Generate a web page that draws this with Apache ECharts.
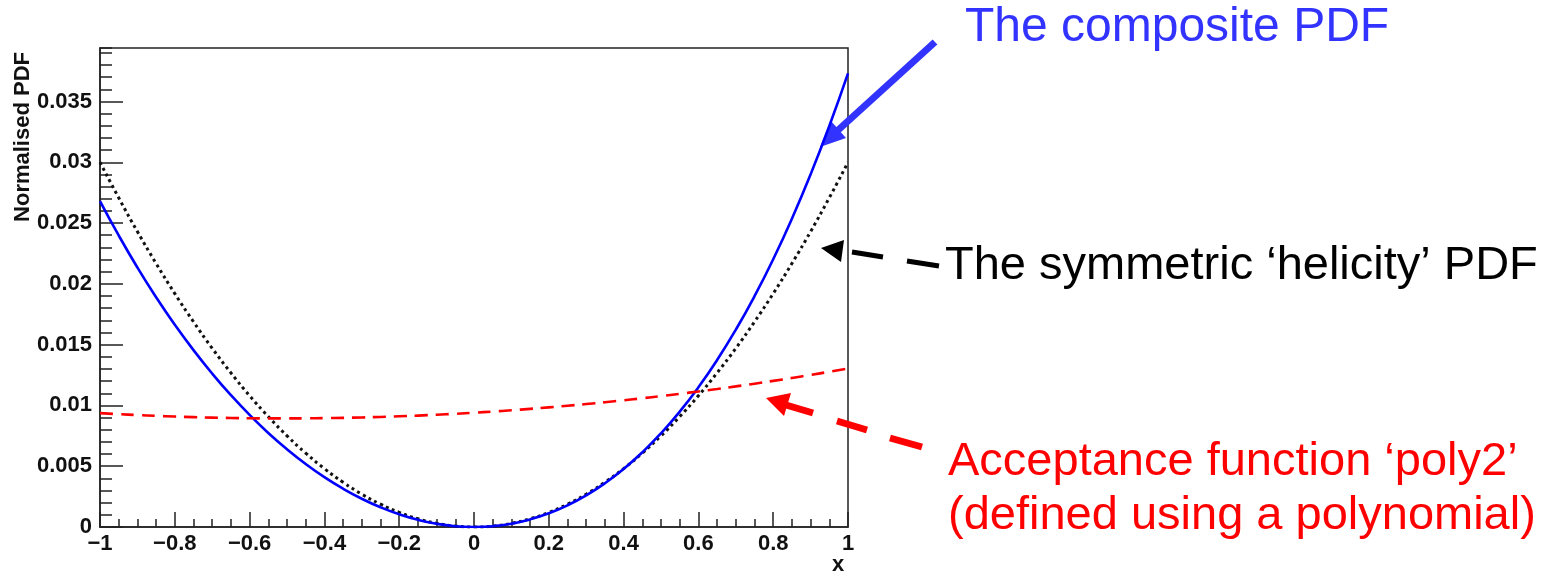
<!DOCTYPE html>
<html>
<head>
<meta charset="utf-8">
<script src="https://cdn.jsdelivr.net/npm/echarts@6/dist/echarts.min.js"></script>
<style>
html,body{margin:0;padding:0;background:#fff;}
#chart{width:1554px;height:575px;}
</style>
</head>
<body>
<div id="chart"></div>
<script>
// x sample positions
const xs = [-1,-0.95,-0.9,-0.85,-0.8,-0.75,-0.7,-0.65,-0.6,-0.55,-0.5,-0.45,-0.4,-0.35,-0.3,-0.25,-0.2,-0.15,-0.1,-0.05,0,
  0.05,0.1,0.15,0.2,0.25,0.3,0.35,0.4,0.45,0.5,0.55,0.6,0.65,0.7,0.75,0.8,0.85,0.9,0.95,1];
// symmetric 'helicity' PDF (black dotted)
const helicity = [0.0300,0.02708,0.0243,0.02168,0.0192,0.01688,0.0147,0.01268,0.0108,0.00908,0.0075,0.00608,0.0048,0.00368,0.0027,0.00188,0.0012,0.00068,0.0003,0.000075,0,
  0.000075,0.0003,0.00068,0.0012,0.00188,0.0027,0.00368,0.0048,0.00608,0.0075,0.00908,0.0108,0.01268,0.0147,0.01688,0.0192,0.02168,0.0243,0.02708,0.0300];
// acceptance function 'poly2' (red dashed)
const acceptance = [0.009365,0.009282,0.009207,0.009141,0.009084,0.009036,0.008998,0.008968,0.008947,0.008935,0.008933,0.008939,0.008954,0.008978,0.009012,0.009054,0.009105,0.009165,0.009235,0.009313,0.0094,
  0.009496,0.009602,0.009716,0.009839,0.009971,0.010113,0.010263,0.010422,0.01059,0.010768,0.010954,0.011149,0.011353,0.011567,0.011789,0.01202,0.012261,0.01251,0.012768,0.013035];
// composite PDF (blue solid)
const composite = [0.026807,0.02398,0.021348,0.018905,0.016642,0.01455,0.012621,0.010846,0.00922,0.007737,0.006393,0.005182,0.004101,0.003148,0.002322,0.00162,0.001043,0.00059,0.000264,0.0000666,0,
  0.000068,0.000275,0.000626,0.001127,0.001784,0.002605,0.003599,0.004773,0.006139,0.007706,0.009485,0.011489,0.01373,0.016224,0.018982,0.022021,0.025358,0.029006,0.032985,0.037313];

const yMax = 0.0394;
const pairs = arr => xs.map((x,i)=>[x,arr[i]]);
const FONT = '"Liberation Sans", Arial, Helvetica, sans-serif';
const minusFmt = v => (v === 0 ? '0' : String(v).replace('-', '\u2212'));

const chart = echarts.init(document.getElementById('chart'), null, {renderer:'canvas'});
chart.setOption({
  animation:false,
  backgroundColor:'#fff',
  grid:{left:100, right:706, top:48, bottom:48, containLabel:false, outerBoundsMode:'none',
    show:true, borderColor:'#222', borderWidth:1.5, backgroundColor:'transparent'},
  xAxis:{
    type:'value', min:-1, max:1, interval:0.2,
    axisLine:{show:true, onZero:false, lineStyle:{color:'#222', width:1.5}},
    axisTick:{show:true, inside:true, length:15, lineStyle:{color:'#222', width:1.5}},
    minorTick:{show:true, splitNumber:4, length:8, lineStyle:{color:'#222', width:1.5}},
    splitLine:{show:false}, minorSplitLine:{show:false},
    axisLabel:{color:'#111', fontFamily:FONT, fontWeight:'bold', fontSize:22, margin:6, formatter:minusFmt}
  },
  yAxis:[{
    type:'value', min:0, max:yMax, interval:0.005,
    axisLine:{show:true, onZero:false, lineStyle:{color:'#222', width:1.5}},
    axisTick:{show:true, inside:true, length:23, lineStyle:{color:'#222', width:1.5}},
    splitLine:{show:false},
    axisLabel:{color:'#111', fontFamily:FONT, fontWeight:'bold', fontSize:22, margin:8, showMaxLabel:false, formatter:minusFmt}
  },{
    type:'value', min:0, max:yMax, interval:0.001, position:'left', offset:0,
    axisLine:{show:false, onZero:false},
    axisTick:{show:true, inside:true, length:12, lineStyle:{color:'#222', width:1.5}},
    splitLine:{show:false},
    axisLabel:{show:false}
  }],
  series:[
    {name:'helicity', type:'line', data:pairs(helicity), smooth:true, showSymbol:false, symbol:'none',
      lineStyle:{color:'#111', width:3, type:[3,3.5]}, z:2},
    {name:'composite', type:'line', data:pairs(composite), smooth:true, showSymbol:false, symbol:'none',
      lineStyle:{color:'#0000ff', width:2.6, type:'solid'}, z:3},
    {name:'acceptance', type:'line', data:pairs(acceptance), smooth:true, showSymbol:false, symbol:'none',
      lineStyle:{color:'#ff0000', width:2.6, type:[13,8]}, z:4}
  ],
  graphic:[
    {type:'text', x:23, y:52, rotation:Math.PI/2,
      style:{text:'Normalised PDF', fill:'#111', font:'bold 22px '+FONT, align:'right', verticalAlign:'middle'}},
    {type:'text', x:838, y:565,
      style:{text:'x', fill:'#111', font:'bold 22px '+FONT, align:'center', verticalAlign:'middle'}},
    // blue annotation
    {type:'text', x:965, y:28, style:{text:'The composite PDF', fill:'#3333ff', font:'48px '+FONT, align:'left', verticalAlign:'middle'}},
    {type:'line', shape:{x1:935, y1:42, x2:836, y2:132}, style:{stroke:'#3333ff', lineWidth:7}},
    {type:'polygon', shape:{points:[[820,147],[846,138],[831,121]]}, style:{fill:'#3333ff'}},
    // black annotation
    {type:'text', x:945, y:266, style:{text:'The symmetric \u2018helicity\u2019 PDF', fill:'#000', font:'47px '+FONT, align:'left', verticalAlign:'middle'}},
    {type:'polygon', shape:{points:[[821,248],[844,240],[841,262]]}, style:{fill:'#000'}},
    {type:'line', shape:{x1:852, y1:252, x2:883, y2:257}, style:{stroke:'#000', lineWidth:5}},
    {type:'line', shape:{x1:907, y1:261, x2:939, y2:266}, style:{stroke:'#000', lineWidth:5}},
    // red annotation
    {type:'text', x:948, y:462, style:{text:'Acceptance function \u2018poly2\u2019', fill:'#ff0000', font:'47px '+FONT, align:'left', verticalAlign:'middle'}},
    {type:'text', x:948, y:516, style:{text:'(defined using a polynomial)', fill:'#ff0000', font:'47px '+FONT, align:'left', verticalAlign:'middle'}},
    {type:'polygon', shape:{points:[[766,398],[791,393],[784,416]]}, style:{fill:'#ff0000'}},
    {type:'line', shape:{x1:786, y1:405, x2:813, y2:413}, style:{stroke:'#ff0000', lineWidth:7}},
    {type:'line', shape:{x1:837, y1:421, x2:867, y2:430}, style:{stroke:'#ff0000', lineWidth:7}},
    {type:'line', shape:{x1:890, y1:438, x2:922, y2:447}, style:{stroke:'#ff0000', lineWidth:7}}
  ]
});
</script>
</body>
</html>
